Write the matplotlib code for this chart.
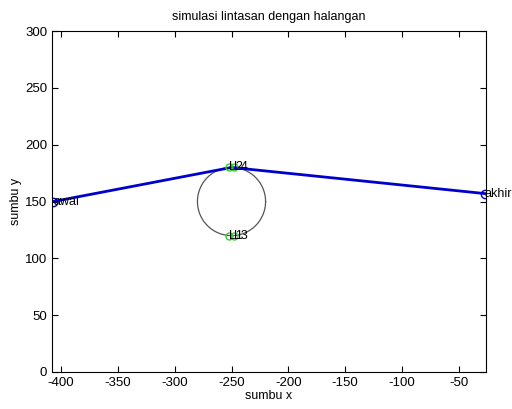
import numpy as np
import matplotlib
matplotlib.use('Agg')
import matplotlib.pyplot as plt

plt.rcParams['font.family'] = ['Liberation Sans', 'DejaVu Sans']
plt.rcParams['axes.unicode_minus'] = False

# lintasan: awal -> titik puncak -> akhir
jalur_x = [-407, -250, -27]
jalur_y = [150, 180, 157]

# halangan (lingkaran)
pusat_x, pusat_y, jari = -250, 150, 30

# titik-titik L pada lingkaran
titik_x = [-252, -252, -248, -248]
titik_y = [120, 180, 120, 180]
titik_label = ['L1', 'L2', 'L3', 'L4']

fig = plt.figure(figsize=(5.12, 4.09), dpi=100)
ax = fig.add_axes([0.1016, 0.0905, 0.8476, 0.8335])

t = np.linspace(0, 2 * np.pi, 200)
ax.plot(pusat_x + jari * np.cos(t), pusat_y + jari * np.sin(t), color='#555555', lw=0.9)

ax.plot(jalur_x, jalur_y, color='#0000cc', lw=2)
ax.plot([jalur_x[0], jalur_x[-1]], [jalur_y[0], jalur_y[-1]], 'o', mfc='none', mec='#0000cc', ms=6)
ax.text(jalur_x[0], jalur_y[0], 'awal', fontsize=9, va='center', ha='left')
ax.text(jalur_x[-1], jalur_y[-1], 'akhir', fontsize=9, va='center', ha='left')

for x, y, lab in zip(titik_x, titik_y, titik_label):
    ax.plot(x, y, 'o', mfc='none', mec='#33cc33', ms=5)
    ax.text(x, y, lab, fontsize=9, va='center', ha='left')

ax.set_xlim(-408, -26)
ax.set_ylim(0, 300)
ax.set_xticks(np.arange(-400, -49, 50))
ax.set_yticks(np.arange(0, 301, 50))
ax.tick_params(direction='in', labelsize=9.5, length=4, top=True, right=True)
ax.set_title('simulasi lintasan dengan halangan', fontsize=9, pad=8)
ax.set_xlabel('sumbu x', fontsize=9, labelpad=1)
ax.set_ylabel('sumbu y', fontsize=9, labelpad=2)

fig.savefig('out.png', dpi=100)
